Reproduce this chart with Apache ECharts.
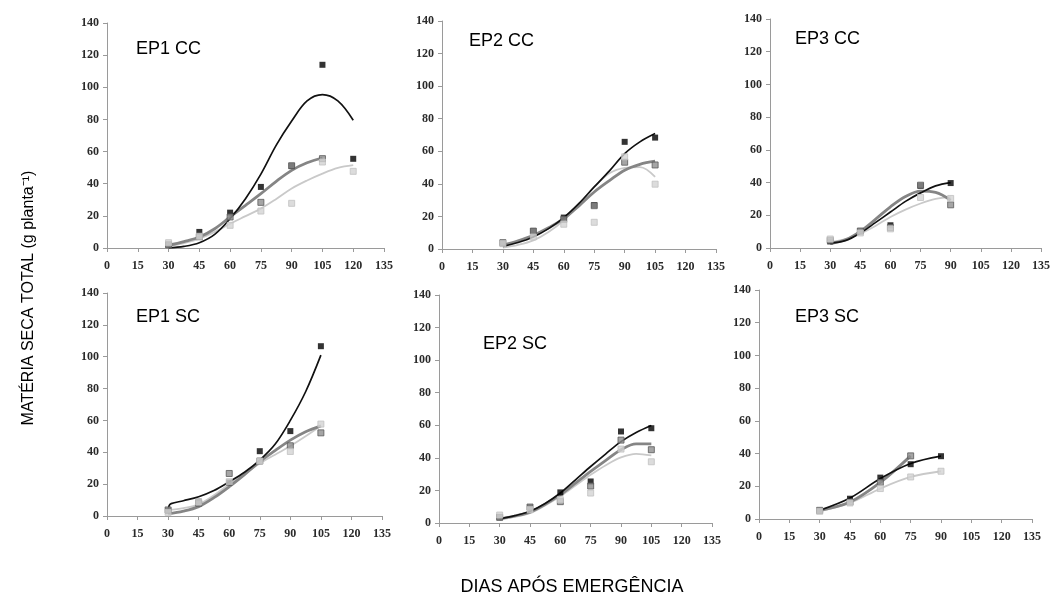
<!DOCTYPE html>
<html>
<head>
<meta charset="utf-8">
<script src="https://cdn.jsdelivr.net/npm/echarts@6/dist/echarts.min.js"></script>
<style>
html,body{margin:0;padding:0;background:#fff;}
#chart{width:1053px;height:595px;}
</style>
</head>
<body>
<div id="chart"></div>
<script>
// ---------- DATA ----------
const panelNames = ['EP1 CC', 'EP2 CC', 'EP3 CC', 'EP1 SC', 'EP2 SC', 'EP3 SC'];
const xTickMax = 135, xTickStep = 15, yTickMax = 140, yTickStep = 20;

// EP1 CC
const ep1ccDays = [30, 45, 60, 75, 90, 105, 120];
const ep1ccBlack = [2, 10, 22, 38, 51, 114, 55.5];
const ep1ccDark = [2, 7, 19.3, 28.4, 51.2, 55.6, null];
const ep1ccLight = [3.3, 7.3, 14.1, 23, 27.8, 53.5, 47.7];
const ep1ccCurveDays = [30, 37.5, 45, 52.5, 60, 67.5, 75, 82.5, 90, 97.5, 105, 112.5, 120];
const ep1ccBlackCurve = [0, 1, 3.3, 8.5, 18.3, 30.7, 46, 64, 79, 91.5, 95.4, 91.5, 79.5];
const ep1ccDarkCurve = [1.7, 4, 6.8, 12, 19.3, 26.5, 33.8, 41.5, 48.3, 53, 56, null, null];
const ep1ccLightCurve = [1, 3, 5.8, 10, 15.1, 19.8, 24.5, 30.5, 37, 42, 46.3, 49.8, 51.5];

// EP2 CC
const ep2ccDays = [30, 45, 60, 75, 90, 105];
const ep2ccBlack = [3.5, 11, 19.3, 27, 65.8, 68.4];
const ep2ccDark = [3.9, 11, 18.2, 26.6, 53.3, 51.6];
const ep2ccLight = [3.3, 7.4, 15.2, 16.4, 56.6, 39.8];
const ep2ccCurveDays = [30, 37.5, 45, 52.5, 60, 67.5, 75, 82.5, 90, 97.5, 105];
const ep2ccBlackCurve = [1.6, 4, 7.4, 12.5, 19.3, 28, 38.1, 48, 58.6, 65.8, 70.9];
const ep2ccDarkCurve = [2.3, 5, 8.4, 13, 18.6, 26.5, 35, 42, 48.4, 52, 53.9];
const ep2ccLightCurve = [0.8, 2.5, 5.3, 10.5, 17.6, 27.5, 38.1, 46.5, 49.8, 50.3, 44.3];

// EP3 CC
const ep3ccDays = [30, 45, 60, 75, 90];
const ep3ccBlack = [4, 10.2, 13.9, 38, 39.7];
const ep3ccDark = [4.7, 10.4, 12.5, 38.4, 26.4];
const ep3ccLight = [5.5, 9.2, 11.7, 30.9, 30.3];
const ep3ccCurveDays = [30, 37.5, 45, 52.5, 60, 67.5, 75, 82.5, 90];
const ep3ccBlackCurve = [3, 4.5, 9.2, 15.5, 22, 28.5, 33.7, 38, 40];
const ep3ccDarkCurve = [2.7, 5, 10.2, 17.5, 25.2, 31.5, 34.8, 34, 29.2];
const ep3ccLightCurve = [3.7, 5.5, 8.8, 13.5, 19, 23.5, 27.2, 30, 31.3];

// EP1 SC
const ep1scDays = [30, 45, 60, 75, 90, 105];
const ep1scBlack = [3.3, 9, 21, 40.7, 53.3, 106.6];
const ep1scDark = [3.8, 8, 26.7, 34.5, 44.1, 52.2];
const ep1scLight = [2.3, 8.8, 21.5, 34.5, 40.5, 57.7];
const ep1scBlackCurveDays = [30, 30.5, 31.5, 37.5, 45, 52.5, 60, 67.5, 75, 82.5, 90, 97.5, 105];
const ep1scBlackCurve = [3, 6.5, 7.8, 9.6, 12.1, 16, 21.5, 27.5, 35.1, 45, 60, 78, 101];
const ep1scCurveDays = [30, 37.5, 45, 52.5, 60, 67.5, 75, 82.5, 90, 97.5, 105];
const ep1scDarkCurve = [1.3, 3, 5.9, 11.5, 18.4, 26, 34.1, 41, 47.6, 52.9, 56.6];
const ep1scLightCurve = [3.8, 5, 7.3, 13, 20, 26.5, 33, 38.5, 43.9, 50, 56.6];

// EP2 SC
const ep2scDays = [30, 45, 60, 75, 90, 105];
const ep2scBlack = [3.5, 9.5, 18.8, 25.5, 56.2, 58.2];
const ep2scDark = [3.5, 9.8, 13.1, 22.7, 50.9, 45];
const ep2scLight = [4.9, 8.2, 14.3, 18.4, 45.4, 37.6];
const ep2scCurveDays = [30, 37.5, 45, 52.5, 60, 67.5, 75, 82.5, 90, 97.5, 105];
const ep2scBlackCurve = [2.5, 4.5, 7.2, 12, 18.4, 26.5, 34.7, 42.5, 50, 55.6, 59.9];
const ep2scDarkCurve = [2.5, 4.3, 6.7, 11.5, 17.4, 24.5, 31.7, 38.5, 45, 48.6, 48.6];
const ep2scLightCurve = [2, 3.8, 6.1, 10.8, 16.4, 23, 29.6, 35.5, 40.3, 42.5, 41.5];

// EP3 SC
const ep3scDays = [30, 45, 60, 75, 90];
const ep3scBlack = [5, 12.4, 25.3, 33.5, 38.4];
const ep3scDark = [5.3, 10.4, 22.4, 38.6, null];
const ep3scLight = [4.7, 9.8, 18.6, 25.7, 29.2];
const ep3scCurveDays = [30, 45, 60, 75, 90];
const ep3scBlackCurve = [5.3, 12.8, 24.7, 33.9, 38.4];
const ep3scDarkCurve = [5.3, 10.4, 22.4, 38.6, null];
const ep3scLightCurve = [4.7, 9.8, 18.6, 25.7, 29.2];

// ---------- LAYOUT / STYLE ----------
const grids = [
  {left: 107, top: 23, width: 277, height: 225},
  {left: 442, top: 21, width: 274, height: 228},
  {left: 770, top: 19, width: 273, height: 229},
  {left: 107, top: 293, width: 275, height: 223},
  {left: 439, top: 295, width: 273, height: 228},
  {left: 759, top: 290, width: 273, height: 229}
];
const titlePos = [[136, 40], [469, 32], [795, 30], [136, 308], [483, 335], [795, 308]];

const panels = [
  {days: ep1ccDays, pts: [ep1ccBlack, ep1ccDark, ep1ccLight],
   curves: [[ep1ccCurveDays, ep1ccBlackCurve], [ep1ccCurveDays, ep1ccDarkCurve], [ep1ccCurveDays, ep1ccLightCurve]]},
  {days: ep2ccDays, pts: [ep2ccBlack, ep2ccDark, ep2ccLight],
   curves: [[ep2ccCurveDays, ep2ccBlackCurve], [ep2ccCurveDays, ep2ccDarkCurve], [ep2ccCurveDays, ep2ccLightCurve]]},
  {days: ep3ccDays, pts: [ep3ccBlack, ep3ccDark, ep3ccLight],
   curves: [[ep3ccCurveDays, ep3ccBlackCurve], [ep3ccCurveDays, ep3ccDarkCurve], [ep3ccCurveDays, ep3ccLightCurve]]},
  {days: ep1scDays, pts: [ep1scBlack, ep1scDark, ep1scLight],
   curves: [[ep1scBlackCurveDays, ep1scBlackCurve], [ep1scCurveDays, ep1scDarkCurve], [ep1scCurveDays, ep1scLightCurve]]},
  {days: ep2scDays, pts: [ep2scBlack, ep2scDark, ep2scLight],
   curves: [[ep2scCurveDays, ep2scBlackCurve], [ep2scCurveDays, ep2scDarkCurve], [ep2scCurveDays, ep2scLightCurve]]},
  {days: ep3scDays, pts: [ep3scBlack, ep3scDark, ep3scLight],
   curves: [[ep3scCurveDays, ep3scBlackCurve], [ep3scCurveDays, ep3scDarkCurve], [ep3scCurveDays, ep3scLightCurve]]}
];

const lineStyles = [
  {color: '#111111', width: 1.7},
  {color: '#858585', width: 2.8},
  {color: '#c9c9c9', width: 1.8}
];
const markerStyles = [
  {color: '#000000', borderColor: '#000000', borderWidth: 0},
  {color: '#8f8f8f', borderColor: '#5a5a5a', borderWidth: 1},
  {color: '#d3d3d3', borderColor: '#c2c2c2', borderWidth: 1}
];

function zip(xs, ys) {
  const out = [];
  for (let i = 0; i < xs.length; i++) {
    if (ys[i] !== null && ys[i] !== undefined) out.push([xs[i], ys[i]]);
  }
  return out;
}

const axisColor = '#9a9a9a';
const labelFont = {fontFamily: '"Liberation Serif", "DejaVu Serif", serif', fontSize: 12, fontWeight: 'bold', color: '#2a2a2a'};

const xAxes = [], yAxes = [], series = [], titles = [];
panels.forEach((p, i) => {
  xAxes.push({
    gridIndex: i, type: 'value', min: 0, max: xTickMax, interval: xTickStep,
    axisLine: {show: true, onZero: false, lineStyle: {color: axisColor, width: 1}},
    axisTick: {show: true, length: 4, lineStyle: {color: axisColor}},
    axisLabel: Object.assign({margin: 12}, labelFont),
    splitLine: {show: false}
  });
  yAxes.push({
    gridIndex: i, type: 'value', min: 0, max: yTickMax, interval: yTickStep,
    axisLine: {show: true, lineStyle: {color: axisColor, width: 1}},
    axisTick: {show: true, length: 4, lineStyle: {color: axisColor}},
    axisLabel: Object.assign({margin: 8}, labelFont),
    splitLine: {show: false}
  });
  // trend curves (light first so black sits on top)
  [2, 1, 0].forEach(k => {
    series.push({
      type: 'line', xAxisIndex: i, yAxisIndex: i,
      data: zip(p.curves[k][0], p.curves[k][1]),
      smooth: 0.35, showSymbol: false, symbol: 'none', silent: true,
      lineStyle: lineStyles[k], z: 3 + (2 - k) * 0.1
    });
  });
  // observed points
  [0, 1, 2].forEach(k => {
    series.push({
      type: 'scatter', xAxisIndex: i, yAxisIndex: i,
      data: zip(p.days, p.pts[k]),
      symbol: 'rect', symbolSize: 6, silent: true,
      itemStyle: markerStyles[k], z: 5 + k * 0.1
    });
  });
  titles.push({
    text: panelNames[i], left: titlePos[i][0], top: titlePos[i][1], padding: 0,
    textStyle: {fontFamily: '"Liberation Sans", Arial, sans-serif', fontSize: 18, fontWeight: 'normal', color: '#000'}
  });
});

const chart = echarts.init(document.getElementById('chart'), null, {renderer: 'canvas'});
chart.setOption({
  animation: false,
  backgroundColor: '#ffffff',
  title: titles,
  grid: grids,
  xAxis: xAxes,
  yAxis: yAxes,
  series: series,
  graphic: [
    {type: 'text', x: 572, y: 587,
     style: {text: 'DIAS APÓS EMERGÊNCIA', font: '18px "Liberation Sans", Arial, sans-serif', fill: '#000',
             align: 'center', verticalAlign: 'middle', textAlign: 'center', textVerticalAlign: 'middle'}},
    {type: 'text', x: 29, y: 298, rotation: Math.PI / 2,
     style: {text: 'MATÉRIA SECA TOTAL (g planta⁻¹)', font: '16px "Liberation Sans", Arial, sans-serif', fill: '#000',
             align: 'center', verticalAlign: 'middle', textAlign: 'center', textVerticalAlign: 'middle'}}
  ]
});
</script>
</body>
</html>
